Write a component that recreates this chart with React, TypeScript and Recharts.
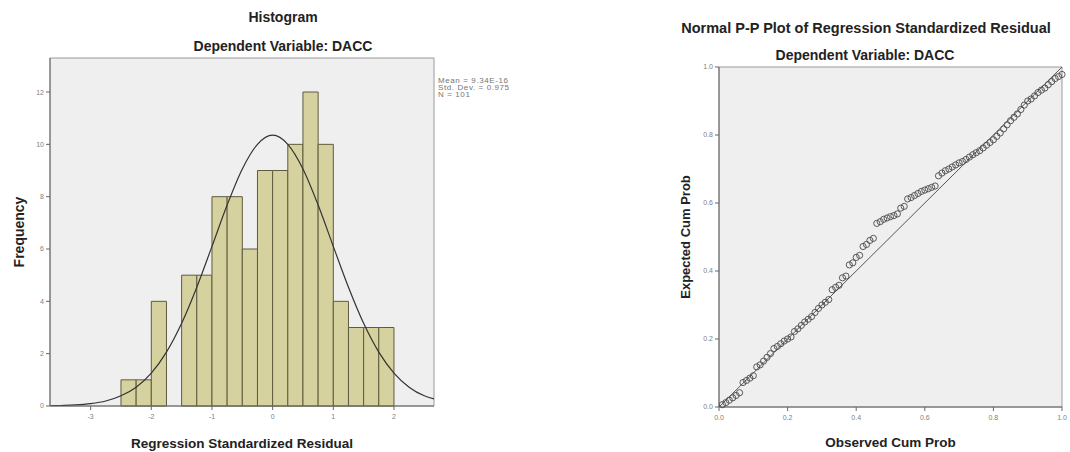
import React from "react";
import {
  ComposedChart,
  ScatterChart,
  Scatter,
  Line,
  XAxis,
  YAxis,
  ReferenceArea,
  ReferenceLine,
  Label,
} from "recharts";

const FONT = '"Liberation Sans", Arial, Helvetica, sans-serif';

// histogram bins (width 0.25) and their frequencies
const binStart = [
  -2.5, -2.25, -2.0, -1.75, -1.5, -1.25, -1.0, -0.75, -0.5, -0.25, 0, 0.25,
  0.5, 0.75, 1.0, 1.25, 1.5, 1.75,
];
const binCount = [1, 1, 4, 0, 5, 5, 8, 8, 6, 9, 9, 10, 12, 10, 4, 3, 3, 3];
const BIN_WIDTH = 0.25;

// normal curve
const curveX = [
  -3.67, -3.5, -3.25, -3, -2.75, -2.5, -2.25, -2, -1.75, -1.5, -1.25, -1,
  -0.75, -0.5, -0.25, 0, 0.25, 0.5, 0.75, 1, 1.25, 1.5, 1.75, 2, 2.25, 2.5,
  2.66,
];
const curveY = [
  0.01, 0.02, 0.04, 0.09, 0.19, 0.39, 0.72, 1.26, 2.06, 3.16, 4.54, 6.1, 7.68,
  9.06, 10.0, 10.35, 10.0, 9.06, 7.68, 6.1, 4.54, 3.16, 2.06, 1.26, 0.72, 0.39,
  0.27,
];

const histTicksX = [-3, -2, -1, 0, 1, 2];
const histTicksY = [0, 2, 4, 6, 8, 10, 12];
const statsLines = ["Mean = 9.34E-16", "Std. Dev. = 0.975", "N = 101"];

// P-P plot points
const observedCum = [
  0.01, 0.02, 0.03, 0.04, 0.05, 0.06, 0.07, 0.08, 0.09, 0.1, 0.11, 0.12, 0.13,
  0.14, 0.15, 0.16, 0.17, 0.18, 0.19, 0.2, 0.21, 0.22, 0.23, 0.24, 0.25, 0.26,
  0.27, 0.28, 0.29, 0.3, 0.31, 0.32, 0.33, 0.34, 0.35, 0.36, 0.37, 0.38, 0.39,
  0.4, 0.41, 0.42, 0.43, 0.44, 0.45, 0.46, 0.47, 0.48, 0.49, 0.5, 0.51, 0.52,
  0.53, 0.54, 0.55, 0.56, 0.57, 0.58, 0.59, 0.6, 0.61, 0.62, 0.63, 0.64, 0.65,
  0.66, 0.67, 0.68, 0.69, 0.7, 0.71, 0.72, 0.73, 0.74, 0.75, 0.76, 0.77, 0.78,
  0.79, 0.8, 0.81, 0.82, 0.83, 0.84, 0.85, 0.86, 0.87, 0.88, 0.89, 0.9, 0.91,
  0.92, 0.93, 0.94, 0.95, 0.96, 0.97, 0.98, 0.99, 1.0,
];
const expectedCum = [
  0.007, 0.013, 0.02, 0.027, 0.034, 0.042, 0.072, 0.078, 0.085, 0.092, 0.118,
  0.124, 0.135, 0.146, 0.157, 0.172, 0.178, 0.186, 0.194, 0.2, 0.206, 0.222,
  0.23, 0.24, 0.25, 0.258, 0.266, 0.278, 0.29, 0.3, 0.308, 0.316, 0.345, 0.352,
  0.358, 0.38, 0.385, 0.418, 0.424, 0.44, 0.446, 0.472, 0.478, 0.49, 0.496,
  0.54, 0.545, 0.552, 0.556, 0.56, 0.563, 0.568, 0.585, 0.59, 0.612, 0.616,
  0.622, 0.628, 0.634, 0.638, 0.642, 0.646, 0.65, 0.68, 0.688, 0.695, 0.7,
  0.706, 0.712, 0.718, 0.722, 0.728, 0.735, 0.742, 0.748, 0.754, 0.762, 0.77,
  0.778, 0.786, 0.796, 0.806, 0.818, 0.83, 0.842, 0.852, 0.862, 0.875, 0.888,
  0.9, 0.906, 0.915, 0.925, 0.932, 0.938, 0.948, 0.957, 0.966, 0.972, 0.978,
];
const ppTicks = [0, 0.2, 0.4, 0.6, 0.8, 1];

const curveData = curveX.map((x, i) => ({ x, y: curveY[i] }));
const ppData = observedCum.map((x, i) => ({ x, y: expectedCum[i] }));

const tickStyle = { fontSize: 7, fill: "#808080", fontFamily: FONT };

const vLabel = (text: string, dx: number, size: number) => (props: any) => {
  const vb = props.viewBox;
  const x = vb.x + dx;
  const y = vb.y + vb.height / 2;
  return (
    <text
      x={x}
      y={y}
      transform={`rotate(-90 ${x} ${y})`}
      textAnchor="middle"
      dominantBaseline="central"
      fontFamily={FONT}
      fontWeight="bold"
      fontSize={size}
      fill="#222"
    >
      {text}
    </text>
  );
};

const titleStyle = (left: number, top: number, width: number, size = 14) =>
  ({
    position: "absolute",
    left,
    top,
    width,
    textAlign: "center",
    fontFamily: FONT,
    fontWeight: "bold",
    fontSize: size,
    color: "#222",
    whiteSpace: "nowrap",
  }) as React.CSSProperties;

const hollowCircle = (p: any) => (
  <circle cx={p.cx} cy={p.cy} r={3.1} fill="none" stroke="#4a4a4a" strokeWidth={0.9} />
);

export default function App() {
  return (
    <div
      style={{
        position: "fixed",
        left: 0,
        top: 0,
        width: 1070,
        height: 452,
        background: "#fff",
      }}
    >
      <div style={titleStyle(183, 9, 200)}>Histogram</div>
      <div style={titleStyle(183, 38, 200)}>Dependent Variable: DACC</div>
      <div
        style={{
          position: "absolute",
          left: 438,
          top: 77,
          fontFamily: FONT,
          fontSize: 8,
          lineHeight: "7px",
          letterSpacing: 0.6,
          color: "#757575",
        }}
      >
        {statsLines.map((s) => (
          <div key={s}>{s}</div>
        ))}
      </div>

      <div style={{ position: "absolute", left: 0, top: 0 }}>
        <ComposedChart
          width={540}
          height={452}
          data={curveData}
          margin={{ top: 58, right: 106, bottom: 0, left: 0 }}
        >
          <XAxis
            dataKey="x"
            type="number"
            domain={[-3.67, 2.66]}
            ticks={histTicksX}
            allowDataOverflow
            height={46}
            tick={tickStyle}
            tickSize={4}
            tickMargin={4}
            stroke="#666"
          >
            <Label
              value="Regression Standardized Residual"
              position="insideBottom"
              offset={4}
              style={{ fontFamily: FONT, fontWeight: "bold", fontSize: 13.5, fill: "#222" }}
            />
          </XAxis>
          <YAxis
            type="number"
            domain={[0, 13.3]}
            ticks={histTicksY}
            allowDataOverflow
            width={50}
            tick={tickStyle}
            tickSize={4}
            tickMargin={2}
            stroke="#666"
          >
            <Label content={vLabel("Frequency", 19, 14)} />
          </YAxis>
          <ReferenceArea
            x1={-3.67}
            x2={2.66}
            y1={0}
            y2={13.3}
            fill="#efefef"
            fillOpacity={1}
            stroke="#9a9a9a"
          />
          {binStart.map((b, i) =>
            binCount[i] > 0 ? (
              <ReferenceArea
                key={b}
                x1={b}
                x2={b + BIN_WIDTH}
                y1={0}
                y2={binCount[i]}
                fill="#d6d2a0"
                fillOpacity={1}
                stroke="#5e5b3e"
                strokeWidth={1}
              />
            ) : null
          )}
          <Line
            dataKey="y"
            type="monotone"
            stroke="#333"
            strokeWidth={1.2}
            dot={false}
            isAnimationActive={false}
          />
        </ComposedChart>
      </div>

      <div style={titleStyle(666, 20, 400, 14.5)}>
        Normal P-P Plot of Regression Standardized Residual
      </div>
      <div style={titleStyle(765, 47, 200)}>Dependent Variable: DACC</div>

      <div style={{ position: "absolute", left: 660, top: 0 }}>
        <ScatterChart
          width={410}
          height={452}
          margin={{ top: 67, right: 8, bottom: 0, left: 0 }}
        >
          <XAxis
            dataKey="x"
            type="number"
            domain={[0, 1]}
            ticks={ppTicks}
            tickFormatter={(v: number) => v.toFixed(1)}
            height={45}
            tick={tickStyle}
            tickSize={4}
            tickMargin={4}
            stroke="#666"
          >
            <Label
              value="Observed Cum Prob"
              position="insideBottom"
              offset={5}
              style={{ fontFamily: FONT, fontWeight: "bold", fontSize: 13.5, fill: "#222" }}
            />
          </XAxis>
          <YAxis
            dataKey="y"
            type="number"
            domain={[0, 1]}
            ticks={ppTicks}
            tickFormatter={(v: number) => v.toFixed(1)}
            width={59}
            tick={tickStyle}
            tickSize={4}
            tickMargin={2}
            stroke="#666"
          >
            <Label content={vLabel("Expected Cum Prob", 25, 13)} />
          </YAxis>
          <ReferenceArea
            x1={0}
            x2={1}
            y1={0}
            y2={1}
            fill="#efefef"
            fillOpacity={1}
            stroke="#9a9a9a"
          />
          <ReferenceLine
            segment={[
              { x: 0, y: 0 },
              { x: 1, y: 1 },
            ]}
            stroke="#555"
            strokeWidth={1}
          />
          <Scatter data={ppData} shape={hollowCircle} isAnimationActive={false} />
        </ScatterChart>
      </div>
    </div>
  );
}
